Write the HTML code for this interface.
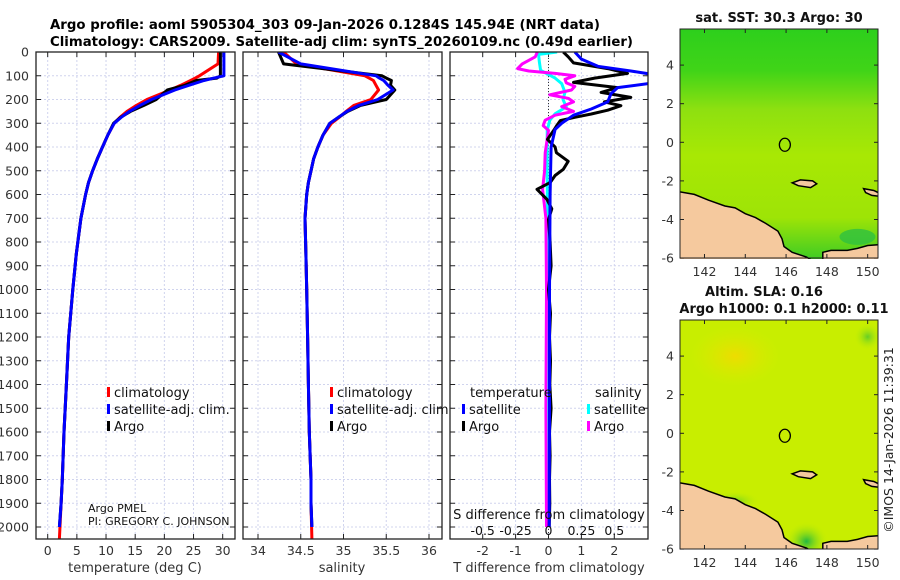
<!DOCTYPE html>
<html><head><meta charset="utf-8"><style>
html,body{margin:0;padding:0;background:#fff;}
svg{display:block;font-family:"DejaVu Sans","Liberation Sans",sans-serif;}
</style></head><body>
<svg id="fig" width="900" height="580" viewBox="0 0 900 580" xmlns="http://www.w3.org/2000/svg">
<defs>
<linearGradient id="sstGrad" x1="0" y1="0" x2="0" y2="1">
<stop offset="0" stop-color="#2dcf1c"/><stop offset="0.18" stop-color="#40d418"/><stop offset="0.35" stop-color="#8ee010"/><stop offset="0.55" stop-color="#a8e804"/><stop offset="0.82" stop-color="#9ee406"/><stop offset="1" stop-color="#3fcc24"/>
</linearGradient>
<radialGradient id="slaGreen" cx="0.5" cy="0.5" r="0.5"><stop offset="0" stop-color="#22b840"/><stop offset="1" stop-color="#c8f000" stop-opacity="0"/></radialGradient>
<radialGradient id="slaYellow" cx="0.5" cy="0.5" r="0.5"><stop offset="0" stop-color="#eedc00"/><stop offset="1" stop-color="#d8ec00" stop-opacity="0"/></radialGradient>
<clipPath id="clip1"><rect x="36" y="52" width="199" height="487"/></clipPath>
<clipPath id="clip2"><rect x="243" y="52" width="199" height="487"/></clipPath>
<clipPath id="clip3"><rect x="450" y="52" width="198" height="487"/></clipPath>
<clipPath id="clipM1"><rect x="680" y="29" width="198" height="230"/></clipPath>
<clipPath id="clipM2"><rect x="680" y="320" width="198" height="229"/></clipPath>
</defs>
<text x="50" y="29" font-size="13.5" font-weight="bold" textLength="550" lengthAdjust="spacingAndGlyphs">Argo profile: aoml 5905304_303 09-Jan-2026 0.1284S 145.94E (NRT data)</text>
<text x="50" y="46" font-size="13.5" font-weight="bold" textLength="583" lengthAdjust="spacingAndGlyphs">Climatology: CARS2009. Satellite-adj clim: synTS_20260109.nc (0.49d earlier)</text>
<g id="layer"></g>
<text transform="translate(893,440) rotate(-90)" text-anchor="middle" font-size="12.5" fill="#222">©IMOS 14-Jan-2026 11:39:31</text>
</svg>
<script>
// ---- profile data ----
const depthGrid = [0,50,100,110,120,140,160,200,225,250,275,300,350,400,450,500,550,600,700,850,1000,1200,1400,1600,1800,1900,2000];
const climDepth = [0,50,100,110,120,140,160,200,225,250,275,300,350,400,450,500,550,600,700,850,1000,1200,1400,1600,1800,1900,2050];
const argoTemp = [29.6,29.6,29.6,29.0,25.5,23.5,20.5,18.6,16.5,14.2,12.5,11.3,10.3,9.4,8.5,7.7,7.0,6.5,5.7,4.9,4.3,3.6,3.2,2.8,2.5,2.3,2.0];
const climTemp = [29.3,29.2,26.0,25.3,24.5,22.8,21.0,17.0,15.2,13.6,12.4,11.4,10.3,9.4,8.5,7.7,7.0,6.5,5.7,4.9,4.3,3.6,3.2,2.8,2.5,2.3,2.0];
const satTemp  = [30.2,30.2,30.2,28.5,26.8,24.2,21.8,17.8,15.8,14.0,12.6,11.4,10.3,9.4,8.5,7.7,7.0,6.5,5.7,4.9,4.3,3.6,3.2,2.8,2.5,2.3,2.0];
const argoSal = [34.24,34.3,35.45,35.5,35.56,35.55,35.6,35.5,35.2,35.05,34.94,34.84,34.76,34.7,34.65,34.62,34.59,34.57,34.55,34.56,34.57,34.58,34.59,34.6,34.62,34.62,34.63];
const climSal = [34.3,34.45,35.25,35.3,35.35,35.38,35.41,35.32,35.12,35.03,34.95,34.86,34.76,34.7,34.65,34.62,34.59,34.57,34.55,34.56,34.57,34.58,34.59,34.6,34.62,34.62,34.63];
const satSal  = [34.24,34.5,35.38,35.42,35.47,35.52,35.58,35.4,35.18,35.04,34.94,34.84,34.76,34.7,34.65,34.62,34.59,34.57,34.55,34.56,34.57,34.58,34.59,34.6,34.62,34.62,34.63];
// ---- difference data ----
const argoTdiffDepth = [0,20,46,70,90,110,128,150,170,191,210,226,245,261,275,289,310,326,368,400,424,460,494,520,550,578,620,660,705,800,900,1000,1100,1200,1300,1400,1500,1600,1700,1800,1900,2000];
const argoTdiff = [0.45,0.6,0.76,1.8,2.4,1.4,0.76,2.1,1.6,2.5,1.7,2.2,1.8,1.3,0.8,0.36,0.25,0.18,-0.03,0.2,0.24,0.6,0.45,0.2,0.05,-0.35,-0.05,0.1,0.0,0.05,0.08,0.0,0.06,0.03,0.06,0.04,0.08,0.03,0.05,0.03,0.04,0.02];
const satTdiffDepth = [0,30,60,80,95,130,150,175,210,240,266,300,326,400,600,1000,1500,2000];
const satTdiff = [0.8,1.0,1.5,2.5,3.2,3.2,2.1,1.9,1.8,1.3,0.76,0.4,0.2,0.08,0.05,0.03,0.03,0.02];
const satSdiffDepth = [0,10,40,77,110,133,170,200,231,260,287,330,500,1000,1500,2000];
const satSdiff = [0.065,-0.075,-0.07,-0.06,0.05,0.1,0.125,0.11,0.135,0.05,0.01,-0.01,-0.01,-0.005,-0.01,-0.005];
const argoSdiffDepth = [0,20,50,70,80,90,100,115,130,145,160,180,195,210,230,250,266,287,310,330,424,500,578,700,1000,1500,2000];
const argoSdiff = [-0.085,-0.1,-0.2,-0.235,-0.15,0.05,0.2,0.125,0.135,0.2,0.175,0.01,0.15,0.19,0.1,0.19,0.05,-0.025,-0.04,0.0,-0.025,-0.03,-0.045,-0.02,-0.015,-0.02,-0.015];
// ---- ticks ----
const depthTicks = [0,100,200,300,400,500,600,700,800,900,1000,1100,1200,1300,1400,1500,1600,1700,1800,1900,2000];
const tempTicks = [0,5,10,15,20,25,30];
const salTicks = [34,34.5,35,35.5,36];
const salTickLabels = ["34","34.5","35","35.5","36"];
const tdiffTicks = [-2,-1,0,1,2];
const sdiffTicks = [-0.5,-0.25,0,0.25,0.5];
const sdiffTickLabels = ["-0.5","-0.25","0","0.25","0.5"];
const latTicks = [4,2,0,-2,-4,-6];
const lonTicks = [142,144,146,148,150];
const argoLon = 145.94, argoLat = -0.1284;

const NS="http://www.w3.org/2000/svg";
const layer=document.getElementById('layer');
function mk(tag,attrs,parent){const e=document.createElementNS(NS,tag);for(const k in attrs)e.setAttribute(k,attrs[k]);(parent||layer).appendChild(e);return e;}
const TOP=52,BOT=539;
const yD=d=>TOP+d*0.2375;
const xT=t=>47.7+t*5.833;
const xS=s=>258+(s-34)*85.5;
const xTd=v=>548.5+v*32.9;
const xSd=v=>548.5+v*131.6;

function panel(name,x0,x1,xTicks,xf,labels,clip){
  const g=mk('g',{});
  
  
  mk('rect',{x:x0,y:TOP,width:x1-x0,height:BOT-TOP,fill:'#fff'},g);
  depthTicks.forEach(d=>{const l=mk('line',{x1:x0,x2:x1,y1:yD(d),y2:yD(d),stroke:'#d0d4ee','stroke-width':1,'stroke-dasharray':'2,2'},g);
    
    mk('line',{x1:x0,x2:x0+5,y1:yD(d),y2:yD(d),stroke:'#222'},g);mk('line',{x1:x1-5,x2:x1,y1:yD(d),y2:yD(d),stroke:'#222'},g);});
  xTicks.forEach((t,i)=>{const x=xf(t);mk('line',{x1:x,x2:x,y1:TOP,y2:BOT,stroke:'#d0d4ee','stroke-dasharray':'2,2'},g);
    mk('line',{x1:x,x2:x,y1:TOP,y2:TOP+5,stroke:'#222'},g);mk('line',{x1:x,x2:x,y1:BOT-5,y2:BOT,stroke:'#222'},g);
    if(labels){const tx=mk('text',{x:x,y:555,'text-anchor':'middle','font-size':12.5,fill:'#333'},g);tx.textContent=labels[i];
      }});
  return g;
}
function line(g,xs,ds,xf,color,name,clip,w){
  const pts=xs.map((v,i)=>xf(v).toFixed(1)+','+yD(ds[i]).toFixed(1)).join(' ');
  const p=mk('polyline',{points:pts,fill:'none',stroke:color,'stroke-width':w||3,'stroke-linejoin':'round','clip-path':'url(#'+clip+')'},g);
  
  
}
function frame(g,x0,x1){mk('rect',{x:x0,y:TOP,width:x1-x0,height:BOT-TOP,fill:'none',stroke:'#222','stroke-width':1.3},g);}
function legend(g,x,y,items){items.forEach((it,i)=>{const yy=y+i*17;
  mk('rect',{x:x,y:yy-10,width:3,height:10,fill:it[1]},g);
  const t=mk('text',{x:x+7,y:yy,'font-size':13,fill:'#111'},g);t.textContent=it[0];
  });}

// Panel 1 temperature
const p1=panel('temperature-panel',36,235,tempTicks,xT,tempTicks.map(String),'clip1');
line(p1,climTemp,climDepth,xT,'#ff0000','temp-climatology-line','clip1');
line(p1,argoTemp,depthGrid,xT,'#000','temp-argo-line','clip1');
line(p1,satTemp,depthGrid,xT,'#0000ff','temp-satellite-line','clip1');
frame(p1,36,235);
depthTicks.forEach(d=>{const t=mk('text',{x:29,y:yD(d)+4.5,'text-anchor':'end','font-size':12.5,fill:'#333'},p1);t.textContent=d;
  });
legend(p1,107,397,[['climatology','#ff0000'],['satellite-adj. clim.','#0000ff'],['Argo','#000']]);
{const t=mk('text',{x:88,y:512,'font-size':11,fill:'#111'},p1);t.textContent='Argo PMEL';
 const t2=mk('text',{x:88,y:525,'font-size':11,fill:'#111'},p1);t2.textContent='PI: GREGORY C. JOHNSON';}
{const t=mk('text',{x:135,y:572,'text-anchor':'middle','font-size':13,fill:'#333'});t.textContent='temperature (deg C)';}

// Panel 2 salinity
const p2=panel('salinity-panel',243,442,salTicks,xS,salTickLabels,'clip2');
line(p2,climSal,climDepth,xS,'#ff0000','sal-climatology-line','clip2');
line(p2,argoSal,depthGrid,xS,'#000','sal-argo-line','clip2');
line(p2,satSal,depthGrid,xS,'#0000ff','sal-satellite-line','clip2');
frame(p2,243,442);
legend(p2,330,397,[['climatology','#ff0000'],['satellite-adj. clim.','#0000ff'],['Argo','#000']]);
{const t=mk('text',{x:342,y:572,'text-anchor':'middle','font-size':13,fill:'#333'});t.textContent='salinity';}

// Panel 3 differences
const p3=panel('difference-panel',450,648,tdiffTicks,xTd,tdiffTicks.map(String),'clip3');
mk('line',{x1:xTd(0),x2:xTd(0),y1:TOP,y2:BOT,stroke:'#333','stroke-dasharray':'1,2'},p3);
line(p3,satSdiff,satSdiffDepth,xSd,'#00ffff','sal-diff-satellite-line','clip3');
line(p3,argoSdiff,argoSdiffDepth,xSd,'#ff00ff','sal-diff-argo-line','clip3');
line(p3,argoTdiff,argoTdiffDepth,xTd,'#000','temp-diff-argo-line','clip3');
line(p3,satTdiff,satTdiffDepth,xTd,'#0000ff','temp-diff-satellite-line','clip3');
frame(p3,450,648);
{const t=mk('text',{x:470,y:397,'font-size':13,fill:'#111'},p3);t.textContent='temperature';
 const t2=mk('text',{x:595,y:397,'font-size':13,fill:'#111'},p3);t2.textContent='salinity';}
legend(p3,462,414,[['satellite','#0000ff'],['Argo','#000']]);
legend(p3,587,414,[['satellite','#00ffff'],['Argo','#ff00ff']]);
{const t=mk('text',{x:549,y:519,'text-anchor':'middle','font-size':13,fill:'#111'},p3);t.textContent='S difference from climatology';}
sdiffTicks.forEach((v,i)=>{const t=mk('text',{x:xSd(v),y:535,'text-anchor':'middle','font-size':12.5,fill:'#111'},p3);t.textContent=sdiffTickLabels[i];
  });
{const t=mk('text',{x:549,y:572,'text-anchor':'middle','font-size':13,fill:'#333'});t.textContent='T difference from climatology';}

// Maps
const landMain=[[140.7,-2.55],[141.5,-2.7],[142.2,-3.0],[143,-3.3],[143.5,-3.4],[144,-3.7],[144.5,-3.9],[145,-4.2],[145.6,-4.6],[145.8,-5.0],[145.9,-5.4],[146.3,-5.7],[147,-5.95],[147.4,-6.2],[140.7,-6.2]];
const landSE=[[147.8,-6.2],[147.8,-5.7],[148.2,-5.6],[149,-5.6],[149.5,-5.5],[150,-5.35],[150.6,-5.3],[150.6,-6.2]];
const manus=[[146.3,-2.1],[146.7,-1.95],[147.3,-2.0],[147.5,-2.15],[147.2,-2.35],[146.6,-2.25]];
const ireland=[[149.8,-2.4],[150.3,-2.5],[150.6,-2.65],[150.6,-2.8],[150.2,-2.75],[149.9,-2.6]];
function map(name,top,title,fillFn,clip){
  const g=mk('g',{});
  
  
  const X=lon=>680+(lon-140.8)*20.4, Y=lat=>top+(5.87-lat)*19.3;
  const inner=mk('g',{'clip-path':'url(#'+clip+')'},g);
  fillFn(inner,X,Y);
  [landMain,landSE,manus,ireland].forEach(poly=>{const p=mk('polygon',{points:poly.map(q=>X(q[0]).toFixed(1)+','+Y(q[1]).toFixed(1)).join(' '),fill:'#f5c99e',stroke:'#000','stroke-width':1.5},inner);
    });
  const c=mk('ellipse',{cx:X(argoLon),cy:Y(argoLat),rx:5.5,ry:6.5,fill:'none',stroke:'#000','stroke-width':1.3},inner);
  
  mk('rect',{x:680,y:top,width:198,height:229,fill:'none',stroke:'#222'},g);
  latTicks.forEach(l=>{mk('line',{x1:680,x2:684,y1:Y(l),y2:Y(l),stroke:'#222'},g);mk('line',{x1:874,x2:878,y1:Y(l),y2:Y(l),stroke:'#222'},g);
    const t=mk('text',{x:674,y:Y(l)+4.5,'text-anchor':'end','font-size':12.5,fill:'#333'},g);t.textContent=l;});
  lonTicks.forEach(l=>{mk('line',{x1:X(l),x2:X(l),y1:top,y2:top+4,stroke:'#222'},g);mk('line',{x1:X(l),x2:X(l),y1:top+225,y2:top+229,stroke:'#222'},g);
    const t=mk('text',{x:X(l),y:top+247,'text-anchor':'middle','font-size':12.5,fill:'#333'},g);t.textContent=l;});
  title.forEach((tt,i)=>{const t=mk('text',{x:tt[1],y:tt[2],'text-anchor':'middle','font-size':13,'font-weight':'bold',fill:'#111'},g);t.textContent=tt[0];});
}
map('sst-map',29,[['sat. SST: 30.3 Argo: 30',779,22]],(g,X,Y)=>{mk('rect',{x:680,y:29,width:198,height:230,fill:'url(#sstGrad)'},g);
  mk('ellipse',{cx:X(149.5),cy:Y(-4.9),rx:18,ry:8,fill:'#30c040',opacity:0.8},g);},'clipM1');
map('sla-map',320,[['Altim. SLA: 0.16',764,296],['Argo h1000: 0.1 h2000: 0.11',784,313]],(g,X,Y)=>{mk('rect',{x:680,y:320,width:198,height:229,fill:'#c8ee00'},g);
  mk('ellipse',{cx:X(143.5),cy:Y(4),rx:45,ry:30,fill:'url(#slaYellow)'},g);
  mk('ellipse',{cx:X(147),cy:Y(-5.6),rx:22,ry:20,fill:'url(#slaGreen)'},g);
  mk('ellipse',{cx:X(150),cy:Y(5),rx:14,ry:14,fill:'url(#slaGreen)',opacity:0.6},g);
  mk('ellipse',{cx:X(143.5),cy:Y(-3.5),rx:25,ry:10,fill:'url(#slaGreen)',opacity:0.5},g);},'clipM2');
</script>
</body></html>
